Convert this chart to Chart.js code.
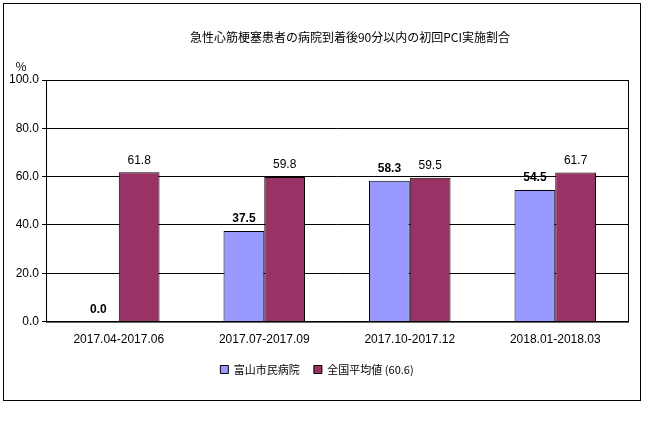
<!DOCTYPE html>
<html><head><meta charset="utf-8">
<script src="https://cdn.jsdelivr.net/npm/chart.js@4"></script>
<style>html,body{margin:0;padding:0;background:#fff}#w{width:648px;height:445px}</style>
</head><body><div id="w"><canvas id="c"></canvas></div>
<script>
const categories=["2017.04-2017.06","2017.07-2017.09","2017.10-2017.12","2018.01-2018.03"];
const toyamaValues=[0.0,37.5,58.3,54.5];
const nationalValues=[61.8,59.8,59.5,61.7];
const seriesNames=["富山市民病院","全国平均値 (60.6)"];
const yTicks=[0,20,40,60,80,100];
const FONT="'Noto Sans CJK JP', sans-serif";
const deco={id:'deco',
 afterDraw(ch){const c=ch.ctx;c.save();c.strokeStyle='#000';c.lineWidth=1;c.strokeRect(3.5,3.5,637,397);
  const a=ch.chartArea;c.strokeRect(a.left+0.5,a.top+0.5,a.right-a.left,a.bottom-a.top);
  c.fillStyle='#000';c.font="12px "+FONT;c.textAlign='center';c.fillText('急性心筋梗塞患者の病院到着後90分以内の初回PCI実施割合',350,37);
  c.fillText('%',21,66);
  c.textBaseline='bottom';
  ch.data.datasets.forEach((ds,i)=>{const m=ch.getDatasetMeta(i);m.data.forEach((b,j)=>{c.font=(i==0?'bold ':'')+"12px Arial";c.fillText(ds.data[j].toFixed(1),b.x,b.y-6);});});
  c.restore();}};
new Chart(document.getElementById('c'),{type:'bar',
 data:{labels:categories,datasets:[
  {label:seriesNames[0],data:toyamaValues,backgroundColor:'#9999FF',borderColor:'#000',borderWidth:1},
  {label:seriesNames[1],data:nationalValues,backgroundColor:'#993366',borderColor:'#000',borderWidth:1}]},
 options:{responsive:true,maintainAspectRatio:false,animation:false,devicePixelRatio:1,
  layout:{padding:{left:6,right:20,top:80,bottom:60}},
  categoryPercentage:0.56,barPercentage:1,
  plugins:{legend:{position:'bottom',labels:{boxWidth:8,boxHeight:8,color:'#000',font:{family:FONT,size:11},padding:14}},tooltip:{enabled:false}},
  scales:{x:{grid:{display:false},border:{color:'#000'},ticks:{color:'#000',font:{family:'Arial',size:12}}},
   y:{min:0,max:100,afterBuildTicks(s){s.ticks=yTicks.map(v=>({value:v}));},
    grid:{color:'#000',drawTicks:true,tickLength:4},border:{color:'#000'},
    ticks:{color:'#000',font:{family:'Arial',size:12},callback:v=>v.toFixed(1)}}}},
 plugins:[deco]});
</script></body></html>
